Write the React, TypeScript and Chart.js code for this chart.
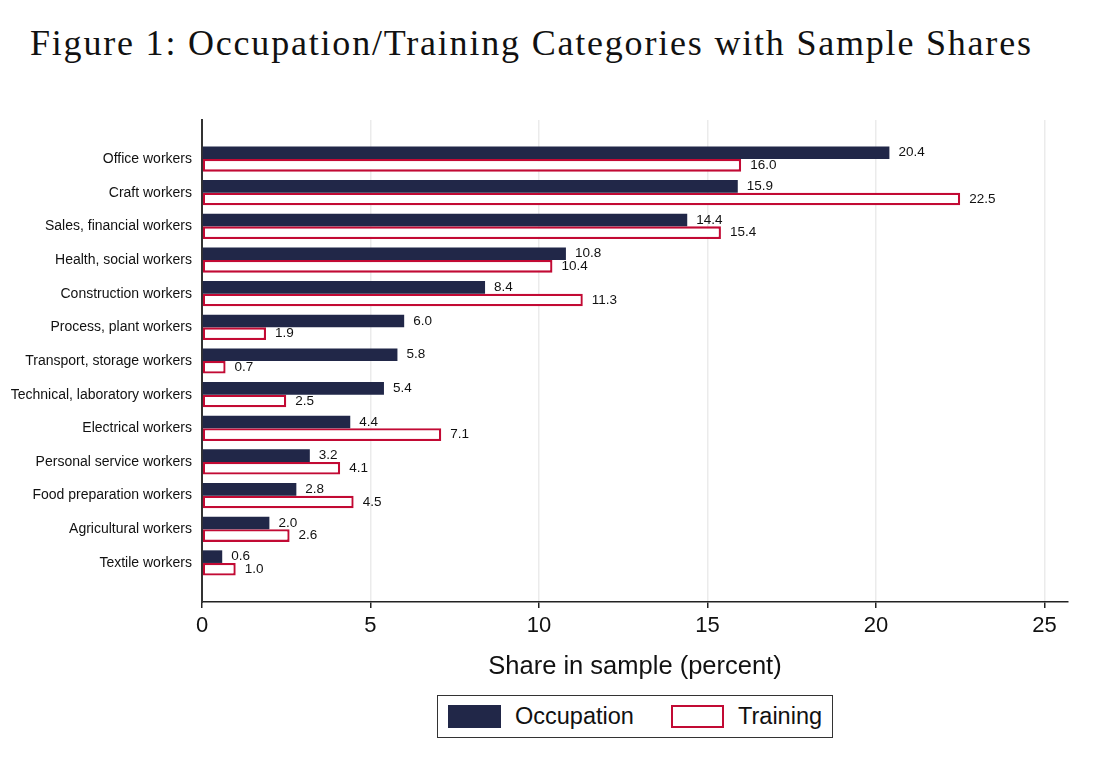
import React, { useEffect, useRef } from 'react'
import Chart, { ChartConfiguration, Plugin } from 'chart.js/auto'

const categories = [
  'Office workers',
  'Craft workers',
  'Sales, financial workers',
  'Health, social workers',
  'Construction workers',
  'Process, plant workers',
  'Transport, storage workers',
  'Technical, laboratory workers',
  'Electrical workers',
  'Personal service workers',
  'Food preparation workers',
  'Agricultural workers',
  'Textile workers',
]
const occupationShares = [20.4, 15.9, 14.4, 10.8, 8.4, 6.0, 5.8, 5.4, 4.4, 3.2, 2.8, 2.0, 0.6]
const trainingShares = [16.0, 22.5, 15.4, 10.4, 11.3, 1.9, 0.7, 2.5, 7.1, 4.1, 4.5, 2.6, 1.0]
const xTicks = [0, 5, 10, 15, 20, 25]

const NAVY = '#212748'
const CRIMSON = '#c20a34'
const FONT = '"Liberation Sans", Arial, sans-serif'

const valueLabels: Plugin<'bar'> = {
  id: 'valueLabels',
  afterDatasetsDraw(chart) {
    const { ctx } = chart
    ctx.save()
    ctx.font = `13.5px ${FONT}`
    ctx.fillStyle = '#111'
    ctx.textBaseline = 'middle'
    ctx.textAlign = 'left'
    chart.data.datasets.forEach((ds, di) => {
      const meta = chart.getDatasetMeta(di)
      meta.data.forEach((bar, i) => {
        const v = (ds.data[i] as { x: number }).x
        ctx.fillText(v.toFixed(1), bar.x + 9, bar.y)
      })
    })
    ctx.restore()
  },
}

const SharesChart: React.FC = () => {
  const chartRef = useRef<HTMLCanvasElement | null>(null)
  const chartInstance = useRef<Chart | null>(null)

  useEffect(() => {
    if (!chartRef.current) return
    if (chartInstance.current) chartInstance.current.destroy()
    const ctx = chartRef.current.getContext('2d')
    if (!ctx) return

    const config: ChartConfiguration<'bar'> = {
      type: 'bar',
      data: {
        datasets: [
          {
            label: 'Occupation',
            data: occupationShares.map((v, i) => ({ x: v, y: i })) as any,
            backgroundColor: NAVY,
            borderWidth: 0,
            categoryPercentage: 0.75,
            barPercentage: 1,
          },
          {
            label: 'Training',
            data: trainingShares.map((v, i) => ({ x: v, y: i })) as any,
            backgroundColor: '#ffffff',
            borderColor: CRIMSON,
            borderWidth: 2.3,
            borderSkipped: false,
            categoryPercentage: 0.75,
            barPercentage: 1,
          },
        ],
      },
      options: {
        indexAxis: 'y',
        animation: false,
        responsive: true,
        maintainAspectRatio: false,
        layout: { padding: { top: 20, right: 49, bottom: 0, left: 0 } },
        plugins: {
          legend: { display: false },
          tooltip: { enabled: false },
          title: { display: false },
        },
        scales: {
          x: {
            type: 'linear',
            min: 0,
            max: 25.7,
            afterFit: (scale) => {
              scale.height = 84
            },
            afterBuildTicks: (scale) => {
              scale.ticks = xTicks.map((value) => ({ value }))
            },
            ticks: {
              font: { family: FONT, size: 22 },
              color: '#111',
              padding: 5,
            },
            grid: {
              color: (c) => (c.tick && c.tick.value === 0 ? 'rgba(0,0,0,0)' : '#ebebeb'),
              tickColor: '#222',
              tickLength: 6,
              lineWidth: 1.5,
            },
            border: { display: true, color: '#222', width: 1.5 },
            title: {
              display: true,
              text: 'Share in sample (percent)',
              font: { family: FONT, size: 25.5 },
              color: '#111',
              padding: { top: 0, bottom: 4 },
            },
          },
          y: {
            type: 'linear',
            reverse: true,
            offset: false,
            min: -1.16,
            max: categories.length - 1 + 1.16,
            afterFit: (scale) => {
              scale.width = 202
            },
            afterBuildTicks: (scale) => {
              scale.ticks = categories.map((_, i) => ({ value: i }))
            },
            ticks: {
              font: { family: FONT, size: 14 },
              color: '#111',
              padding: 10,
              callback: (v) => categories[Number(v)] ?? '',
            },
            grid: { display: false, drawTicks: false },
            border: { display: true, color: '#333', width: 2 },
          },
        },
      },
      plugins: [valueLabels],
    }

    chartInstance.current = new Chart(ctx, config)
    return () => {
      if (chartInstance.current) chartInstance.current.destroy()
    }
  }, [])

  return (
    <div style={{ position: 'absolute', left: 0, top: 100, width: 1117, height: 586 }}>
      <canvas ref={chartRef} />
    </div>
  )
}

const Legend: React.FC = () => (
  <div
    style={{
      position: 'absolute',
      left: 437,
      top: 695,
      width: 396,
      height: 43,
      border: '1px solid #333',
      boxSizing: 'border-box',
      fontFamily: FONT,
      fontSize: 23.5,
      color: '#111',
    }}
  >
    <div style={{ position: 'absolute', left: 10, top: 9, width: 53, height: 23, background: NAVY }} />
    <div style={{ position: 'absolute', left: 77, top: 7, lineHeight: '27px' }}>Occupation</div>
    <div
      style={{
        position: 'absolute',
        left: 233,
        top: 9,
        width: 53,
        height: 23,
        border: `2px solid ${CRIMSON}`,
        boxSizing: 'border-box',
      }}
    />
    <div style={{ position: 'absolute', left: 300, top: 7, lineHeight: '27px' }}>Training</div>
  </div>
)

export default function App() {
  return (
    <div style={{ width: 1101, height: 750, background: '#fff' }}>
      <div
        style={{
          position: 'absolute',
          left: 30,
          top: 22,
          fontFamily: '"Liberation Serif", "Times New Roman", serif',
          fontSize: 36,
          letterSpacing: 1.8,
          color: '#111',
          whiteSpace: 'nowrap',
        }}
      >
        Figure 1: Occupation/Training Categories with Sample Shares
      </div>
      <SharesChart />
      <Legend />
    </div>
  )
}
